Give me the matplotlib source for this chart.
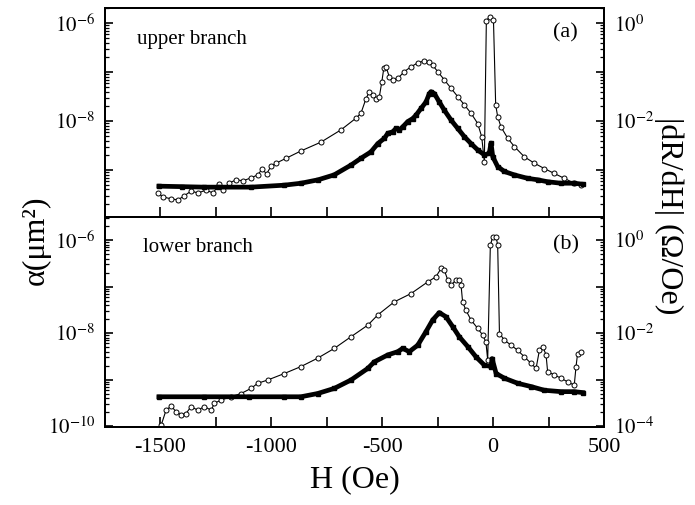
import matplotlib
matplotlib.use("Agg")
import matplotlib.pyplot as plt
import numpy as np
from matplotlib.ticker import FixedLocator, FuncFormatter, LogLocator, MultipleLocator, NullFormatter

plt.rcParams['font.family'] = ['Liberation Serif', 'DejaVu Serif']
plt.rcParams['mathtext.fontset'] = 'stix'
plt.rcParams['axes.unicode_minus'] = False

# field values (Oe) and log10 of the values
# (a) upper branch, open circles: alpha (um^2)
h_up_alpha = [-1510, -1486, -1450, -1419, -1392, -1360, -1329, -1293, -1261, -1234, -1216, -1189,
              -1158, -1126, -1090, -1060, -1040, -1020, -1000, -977, -932, -865, -775, -685, -617,
              -595, -572, -557, -542, -527, -512, -501, -492, -482, -467, -452, -429, -400, -369,
              -339, -309, -287, -272, -249, -219, -189, -159, -129, -99, -69, -51, -39, -30, -15,
              2, 12, 21, 36, 66, 96, 141, 186, 231, 276, 321, 366, 396]
lg_up_alpha = [-9.47, -9.55, -9.59, -9.61, -9.53, -9.43, -9.47, -9.41, -9.47, -9.29, -9.41, -9.27,
               -9.20, -9.22, -9.16, -9.10, -8.98, -9.08, -8.92, -8.86, -8.76, -8.61, -8.43, -8.18, -7.94,
               -7.84, -7.54, -7.40, -7.47, -7.54, -7.50, -7.20, -6.92, -6.89, -7.10, -7.16, -7.13, -6.99, -6.89,
               -6.81, -6.77, -6.79, -6.86, -6.99, -7.16, -7.33, -7.50, -7.67, -7.84, -8.05, -8.32, -8.83, -5.95, -5.87,
               -5.93, -7.67, -7.91, -8.12, -8.35, -8.52, -8.73, -8.86, -8.97, -9.07, -9.17, -9.27, -9.31]

# (a) upper branch, filled: |dR/dH| (Ohm/Oe)
h_up_drdh = [-1505, -1400, -1300, -1239, -1090, -941, -865, -788, -716, -640, -595, -550, -519,
             -489, -474, -452, -437, -422, -407, -384, -362, -347, -324, -302, -287, -279, -264,
             -242, -219, -189, -159, -129, -99, -69, -39, -17, -9, -1, 21, 51, 96, 156, 201, 246,
             306, 366, 404]
lg_up_drdh = [-3.33, -3.34, -3.35, -3.35, -3.35, -3.31, -3.27, -3.20, -3.10, -2.90, -2.76, -2.63, -2.46,
              -2.35, -2.25, -2.22, -2.15, -2.18, -2.12, -2.01, -1.95, -1.88, -1.74, -1.61, -1.44, -1.40, -1.44,
              -1.61, -1.78, -1.98, -2.15, -2.32, -2.46, -2.59, -2.69, -2.66, -2.45, -2.73, -2.93, -3.03, -3.10,
              -3.17, -3.20, -3.24, -3.27, -3.27, -3.29]

# (b) lower branch, open circles: alpha
h_lo_alpha = [-1495, -1473, -1450, -1428, -1405, -1383, -1360, -1330, -1300, -1270, -1255, -1225,
              -1180, -1135, -1090, -1060, -1015, -940, -865, -790, -715, -640, -564, -519, -445,
              -369, -294, -257, -234, -219, -204, -189, -167, -152, -144, -137, -122, -99, -69,
              -47, -32, -24, -12, -1, 14, 21, 29, 51, 81, 111, 141, 171, 194, 209, 224, 239, 246,
              276, 306, 336, 366, 374, 381, 396]
lg_lo_alpha = [-9.98, -9.66, -9.57, -9.69, -9.76, -9.73, -9.58, -9.66, -9.58, -9.66, -9.51, -9.44,
               -9.37, -9.30, -9.19, -9.08, -9.01, -8.87, -8.72, -8.54, -8.33, -8.08, -7.83, -7.61, -7.33,
               -7.15, -6.90, -6.79, -6.61, -6.65, -6.86, -6.97, -6.86, -6.86, -6.97, -7.33, -7.51, -7.72, -7.90,
               -8.04, -8.19, -8.58, -6.11, -5.93, -5.93, -6.11, -8.01, -8.15, -8.26, -8.37, -8.51, -8.65, -8.76,
               -8.37, -8.29, -8.47, -8.83, -8.90, -8.97, -9.05, -9.12, -8.72, -8.44, -8.40]

# (b) lower branch, filled: |dR/dH|
h_lo_drdh = [-1505, -1300, -1100, -940, -865, -790, -715, -640, -564, -535, -474, -429, -407,
             -377, -339, -302, -272, -242, -212, -182, -152, -114, -77, -39, -9, -4, 14, 51, 111,
             171, 231, 306, 366, 404]
lg_lo_drdh = [-3.37, -3.37, -3.37, -3.37, -3.37, -3.30, -3.19, -3.01, -2.76, -2.62, -2.47, -2.40, -2.33,
              -2.40, -2.26, -1.97, -1.72, -1.56, -1.65, -1.86, -2.08, -2.29, -2.51, -2.69, -2.72, -2.55, -2.87,
              -2.97, -3.08, -3.15, -3.23, -3.26, -3.26, -3.28]

panels = [
    ("upper branch", "(a)", h_up_alpha, lg_up_alpha, h_up_drdh, lg_up_drdh, (-9.96, -5.69), [-6, -8]),
    ("lower branch", "(b)", h_lo_alpha, lg_lo_alpha, h_lo_drdh, lg_lo_drdh, (-10.02, -5.505), [-6, -8, -10]),
]

fig = plt.figure(figsize=(6.95, 5.05), dpi=100)
W, H = 695.0, 505.0
boxes = [(105, 8, 604, 217), (105, 217, 604, 427)]
name_pos = [(0.064, 0.85), (0.076, 0.857)]
tag_pos = [(0.898, 0.88), (0.898, 0.867)]


def pow_fmt(shown, offset=0):
    def f(v, pos):
        e = int(round(np.log10(v)))
        if e - offset in shown:
            return r'$10^{%d}$' % e
        return ''
    return FuncFormatter(f)


for i, ((name, tag, ha, la, hd, ld, ylim, shown), (x0, y0, x1, y1)) in enumerate(zip(panels, boxes)):
    ax = fig.add_axes([x0 / W, 1 - y1 / H, (x1 - x0) / W, (y1 - y0) / H])
    axr = ax.twinx()
    ax.set_yscale('log')
    axr.set_yscale('log')
    ax.set_ylim(10 ** ylim[0], 10 ** ylim[1])
    axr.set_ylim(10 ** (ylim[0] + 6), 10 ** (ylim[1] + 6))
    ax.set_xlim(-1748, 500)

    ax.plot(ha, 10.0 ** np.array(la), '-o', color='black', lw=0.8, ms=3.6,
            mfc='white', mec='black', mew=0.7, zorder=3)
    axr.plot(hd, 10.0 ** np.array(ld), '-s', color='black', lw=3.4, ms=2.5, zorder=2)

    ax.yaxis.set_major_locator(FixedLocator([10.0 ** e for e in range(-10, -5)]))
    ax.yaxis.set_major_formatter(pow_fmt(shown))
    ax.yaxis.set_minor_locator(LogLocator(base=10, subs=np.arange(2, 10), numticks=20))
    ax.yaxis.set_minor_formatter(NullFormatter())
    axr.yaxis.set_major_locator(FixedLocator([10.0 ** e for e in range(-4, 1)]))
    axr.yaxis.set_major_formatter(pow_fmt(shown, offset=6))
    axr.yaxis.set_minor_locator(LogLocator(base=10, subs=np.arange(2, 10), numticks=20))
    axr.yaxis.set_minor_formatter(NullFormatter())

    ax.xaxis.set_major_locator(MultipleLocator(500))
    ax.xaxis.set_minor_locator(MultipleLocator(250))
    ax.tick_params(axis='x', which='both', direction='in', length=7, width=1.2, top=False,
                   labelsize=16, pad=8)
    ax.tick_params(axis='y', which='major', direction='in', length=6, width=1.2, labelsize=15, pad=7)
    ax.tick_params(axis='y', which='minor', direction='in', length=3, width=0.9)
    axr.tick_params(axis='y', which='major', direction='in', length=6, width=1.2, labelsize=15, pad=7)
    axr.tick_params(axis='y', which='minor', direction='in', length=3, width=0.9)
    for a in (ax, axr):
        for s in a.spines.values():
            s.set_linewidth(1.4)

    ax.text(name_pos[i][0], name_pos[i][1], name, transform=ax.transAxes, fontsize=15, va='center')
    ax.text(tag_pos[i][0], tag_pos[i][1], tag, transform=ax.transAxes, fontsize=16, va='center')

    if tag == "(a)":
        ax.tick_params(axis='x', labelbottom=False)
    else:
        ax.set_xlabel('H (Oe)', fontsize=23, labelpad=6)

fig.text(36 / W, 1 - 240 / H, 'α(μm²)', rotation=90, fontsize=23,
         ha='center', va='center')
fig.text(669 / W, 1 - 216 / H, '|dR/dH| (Ω/Oe)', rotation=270, fontsize=23,
         ha='center', va='center')

fig.savefig('out.png', dpi=100)
